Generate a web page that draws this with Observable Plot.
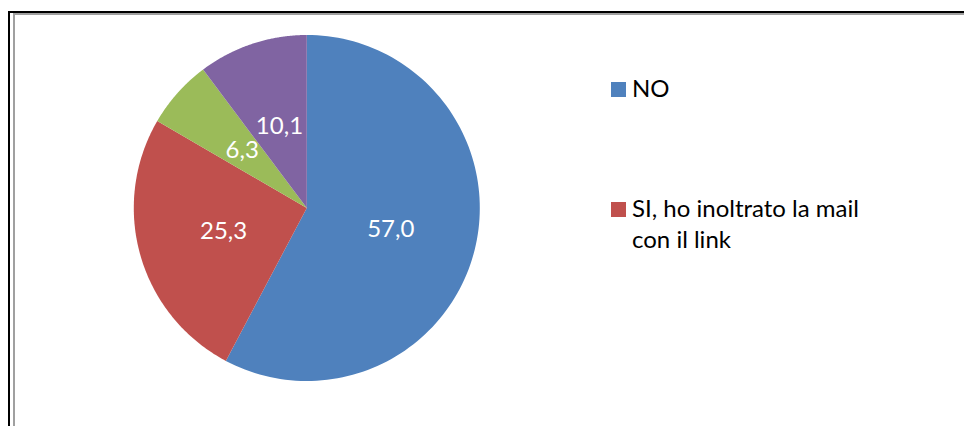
<!DOCTYPE html>
<html>
<head>
<meta charset="utf-8">
<script src="https://cdn.jsdelivr.net/npm/d3@7"></script>
<script src="https://cdn.jsdelivr.net/npm/@observablehq/plot@0.6"></script>
<style>
  html, body { margin: 0; padding: 0; background: #fff; }
  #wrap { position: relative; width: 964px; height: 426px; overflow: hidden; font-family: Lato, "Liberation Sans", sans-serif; }
  .ln { position: absolute; }
  .leg { position: absolute; font-size: 24px; line-height: 31px; color: #000; white-space: nowrap; }
  .sw { position: absolute; width: 15px; height: 15px; }
</style>
</head>
<body>
<div id="wrap">
  <div id="chart"></div>
  <div class="ln" style="left:8px;top:11px;width:2px;height:415px;background:#000"></div>
  <div class="ln" style="left:8px;top:11px;width:956px;height:2px;background:#000"></div>
  <div class="ln" style="left:13px;top:13px;width:2px;height:413px;background:#a0a0a0"></div>
  <div class="ln" style="left:13px;top:13px;width:951px;height:2px;background:#a0a0a0"></div>
  <div id="legend"></div>
</div>
<script>
const categories = ["NO", "SI, ho inoltrato la mail con il link", "Altro (verde)", "Altro (viola)"];
const values = [57.0, 25.3, 6.3, 10.1];
const colors = ["#4F81BD", "#C0504D", "#9BBB59", "#8064A2"];
const legendLines = [["NO"], ["SI, ho inoltrato la mail", "con il link"]];

const data = categories.map((c, i) => ({category: c, value: values[i]}));
const arcs = d3.pie().sort(null).value(d => d.value)(data);

const polys = [];
arcs.forEach(a => {
  const n = 120;
  polys.push({category: a.data.category, x: 0, y: 0});
  for (let k = 0; k <= n; k++) {
    const t = a.startAngle + (a.endAngle - a.startAngle) * k / n;
    polys.push({category: a.data.category, x: Math.sin(t), y: Math.cos(t)});
  }
  polys.push({category: a.data.category, x: 0, y: 0});
});
const labels = arcs.map(a => {
  const m = (a.startAngle + a.endAngle) / 2;
  return {category: a.data.category, x: 0.5 * Math.sin(m), y: 0.5 * Math.cos(m),
          text: d3.format(".1f")(a.data.value).replace(".", ",")};
});

const cx = 306.3, cy = 207.5, r = 173;
const chart = Plot.plot({
  width: 964, height: 426,
  margin: 0,
  style: {fontFamily: "Lato, 'Liberation Sans', sans-serif", background: "transparent"},
  x: {domain: [-1, 1], range: [cx - r, cx + r], axis: null},
  y: {domain: [-1, 1], range: [cy + r, cy - r], axis: null},
  color: {domain: categories, range: colors},
  marks: [
    Plot.line(polys, {x: "x", y: "y", z: "category", fill: "category", stroke: "none", curve: "linear"}),
    Plot.text(labels, {x: "x", y: "y", text: "text", fill: "white", fontSize: 24, fontFamily: "Lato, 'Liberation Sans', sans-serif"})
  ]
});
document.getElementById("chart").appendChild(chart);

const leg = document.getElementById("legend");
const legendTops = [72, 192];
legendLines.forEach((lines, i) => {
  const sw = document.createElement("div");
  sw.className = "sw";
  sw.style.left = "611px";
  sw.style.top = (legendTops[i] + 10) + "px";
  sw.style.background = colors[i];
  leg.appendChild(sw);
  const t = document.createElement("div");
  t.className = "leg";
  t.style.left = "632px";
  t.style.top = legendTops[i] + "px";
  t.innerHTML = lines.map(s => s.replace(/&/g, "&amp;")).join("<br>");
  leg.appendChild(t);
});
</script>
</body>
</html>
